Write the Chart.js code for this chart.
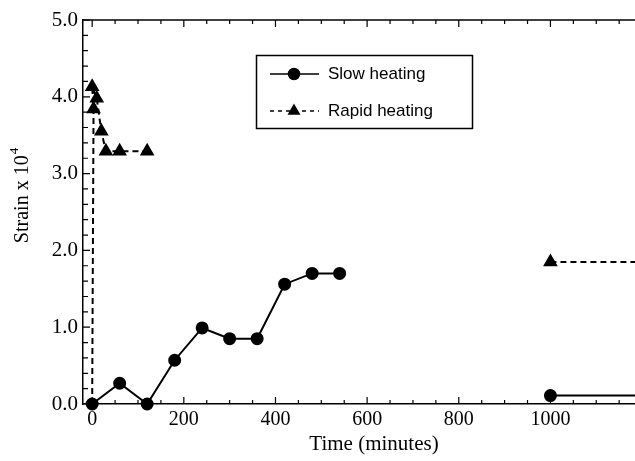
<!DOCTYPE html>
<html>
<head>
<meta charset="utf-8">
<script src="https://cdn.jsdelivr.net/npm/chart.js@4.4.1/dist/chart.umd.min.js"></script>
<style>
  body { margin: 0; background: #fff; overflow: hidden; }
  #wrap { width: 635px; height: 461px; overflow: hidden; }
  canvas { display: block; }
</style>
</head>
<body>
<div id="wrap"><canvas id="myChart" width="665" height="461"></canvas></div>
<script>
// slow heating run (null = break in the line)
var slowTime   = [0, 60, 120, 180, 240, 300, 360, 420, 480, 540, 700, 1000, 1400];
var slowStrain = [0, 0.27, 0, 0.57, 0.99, 0.85, 0.85, 1.56, 1.70, 1.70, null, 0.11, 0.11];

// rapid heating run
var rapidTime   = [0, 3, 0, 10, 20, 30, 60, 120, 700, 1000, 1400];
var rapidStrain = [0, 3.84, 4.13, 3.98, 3.55, 3.29, 3.29, 3.29, null, 1.85, 1.85];

var seriesNames = ["Slow heating", "Rapid heating"];
var xTicks = [0, 200, 400, 600, 800, 1000];
var yTicks = [0, 1, 2, 3, 4, 5];

function toPoints(xs, ys) {
  var pts = [];
  for (var i = 0; i < xs.length; i++) pts.push({x: xs[i], y: ys[i]});
  return pts;
}

var serif = "'Liberation Serif', 'Times New Roman', serif";
var sans = "'Liberation Sans', Arial, sans-serif";

// inward ticks, top frame line, y title, legend box
var frame = {
  id: 'frame',
  afterDatasetsDraw: function(chart) {
    var ctx = chart.ctx, a = chart.chartArea;
    var xs = chart.scales.x, ys = chart.scales.y;
    ctx.save();
    ctx.strokeStyle = '#000';
    ctx.lineWidth = 1.5;
    ctx.beginPath();
    ctx.moveTo(a.left, a.top);
    ctx.lineTo(a.right, a.top);
    ctx.stroke();
    ctx.lineWidth = 1.2;
    ctx.beginPath();
    for (var t = 0; t <= 1250; t += 50) {
      var px = xs.getPixelForValue(t);
      var len = (t % 200 === 0) ? 7 : 4;
      ctx.moveTo(px, a.bottom); ctx.lineTo(px, a.bottom - len);
      ctx.moveTo(px, a.top); ctx.lineTo(px, a.top + len);
    }
    for (var k = 0; k <= 25; k++) {
      var py = ys.getPixelForValue(k * 0.2);
      var l2 = (k % 5 === 0) ? 7 : 5;
      ctx.moveTo(a.left, py); ctx.lineTo(a.left + l2, py);
    }
    ctx.stroke();
    ctx.restore();
  },
  afterDraw: function(chart) {
    var ctx = chart.ctx;
    ctx.save();
    ctx.translate(23, 196);
    ctx.rotate(-Math.PI / 2);
    ctx.fillStyle = '#000';
    ctx.textBaseline = 'middle';
    ctx.font = '20px ' + serif;
    var main = 'Strain x 10';
    var w1 = ctx.measureText(main).width;
    ctx.font = '13px ' + serif;
    var w2 = ctx.measureText('4').width;
    var x0 = -(w1 + w2) / 2;
    ctx.font = '20px ' + serif;
    ctx.fillText(main, x0, 0);
    ctx.font = '13px ' + serif;
    ctx.fillText('4', x0 + w1 + 1, -8);
    ctx.restore();

    ctx.save();
    ctx.strokeStyle = '#000';
    ctx.lineWidth = 1.5;
    ctx.strokeRect(256.5, 55.5, 216, 73);
    var legendStyles = [{style: 'circle', r: 5.5}, {style: 'triangle', r: 6}];
    chart.data.datasets.forEach(function(ds, i) {
      var y = 74 + i * 37;
      ctx.strokeStyle = '#000';
      ctx.lineWidth = 1.5;
      ctx.setLineDash(i === 1 ? [4, 4] : []);
      ctx.beginPath();
      ctx.moveTo(270, y); ctx.lineTo(319, y);
      ctx.stroke();
      ctx.setLineDash([]);
      ctx.fillStyle = '#000';
      Chart.helpers.drawPoint(ctx, {pointStyle: legendStyles[i].style, radius: legendStyles[i].r, borderWidth: 1, rotation: 0}, 294, y);
      ctx.font = '17px ' + sans;
      ctx.textBaseline = 'middle';
      ctx.fillText(ds.label, 328, y);
    });
    ctx.restore();
  }
};

var ctx = document.getElementById("myChart").getContext('2d');
var myChart = new Chart(ctx, {
  type: 'scatter',
  data: {
    datasets: [{
      label: seriesNames[0],
      data: toPoints(slowTime, slowStrain),
      showLine: true,
      borderColor: '#000',
      borderWidth: 2,
      backgroundColor: '#000',
      pointBackgroundColor: '#000',
      pointBorderColor: '#000',
      pointStyle: 'circle',
      pointRadius: 5.5,
      clip: false
    }, {
      label: seriesNames[1],
      data: toPoints(rapidTime, rapidStrain),
      showLine: true,
      borderColor: '#000',
      borderWidth: 2,
      borderDash: [6, 4],
      backgroundColor: '#000',
      pointBackgroundColor: '#000',
      pointBorderColor: '#000',
      pointStyle: 'triangle',
      pointRadius: function(c) { return (c.raw && c.raw.y === 0) ? 0 : 6.5; },
      clip: false
    }]
  },
  options: {
    responsive: false,
    animation: false,
    layout: { autoPadding: false, padding: { top: 20, left: 0, right: 0, bottom: 0 } },
    plugins: { legend: { display: false }, tooltip: { enabled: false } },
    scales: {
      x: {
        type: 'linear',
        min: -20,
        max: 1250,
        afterBuildTicks: function(s) { s.ticks = xTicks.map(function(v) { return {value: v}; }); },
        afterFit: function(s) { s.height = 57; s.paddingLeft = 0; s.paddingRight = 0; },
        grid: { display: false, drawTicks: false },
        border: { display: true, color: '#000', width: 1.5 },
        ticks: { color: '#000', font: { family: serif, size: 20 }, padding: 4, maxRotation: 0,
                 callback: function(v) { return String(v); } },
        title: { display: true, text: 'Time (minutes)', color: '#000', font: { family: serif, size: 21 }, padding: { top: 0, bottom: 4 } }
      },
      y: {
        min: 0,
        max: 5,
        afterBuildTicks: function(s) { s.ticks = yTicks.map(function(v) { return {value: v}; }); },
        afterFit: function(s) { s.width = 83; },
        grid: { display: false, drawTicks: false },
        border: { display: true, color: '#000', width: 1.5 },
        ticks: { color: '#000', font: { family: serif, size: 21 }, padding: 5, callback: function(v) { return v.toFixed(1); } }
      }
    }
  },
  plugins: [frame]
});
</script>
</body>
</html>
